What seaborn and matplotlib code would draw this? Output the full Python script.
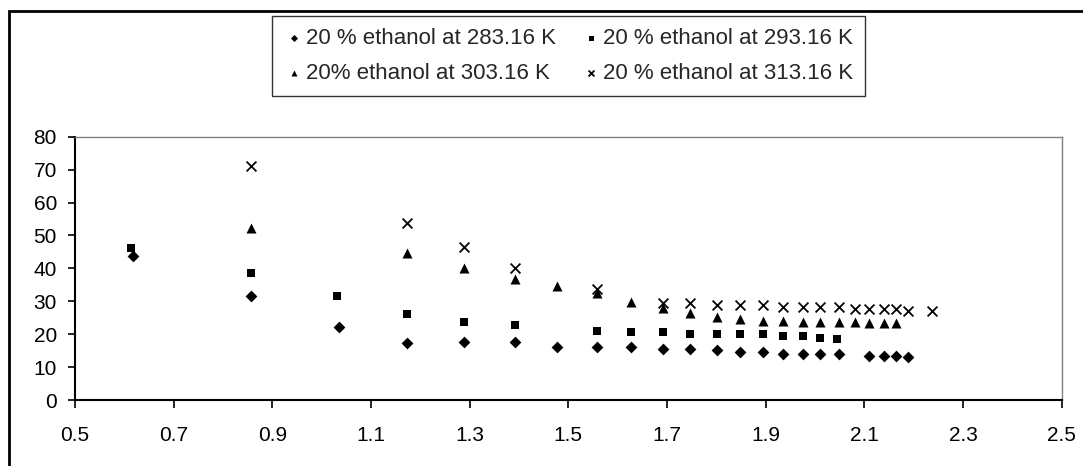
import matplotlib
matplotlib.use("Agg")
import matplotlib.pyplot as plt
import seaborn as sns
import pandas as pd
from matplotlib.patches import Rectangle

labels = ["20 % ethanol at 283.16 K", "20 % ethanol at 293.16 K",
          "20% ethanol at 303.16 K", "20 % ethanol at 313.16 K"]

x_283 = [0.617, 0.857, 1.035, 1.173, 1.289, 1.391, 1.478, 1.558, 1.627, 1.692, 1.747,
         1.801, 1.848, 1.895, 1.935, 1.975, 2.011, 2.048, 2.109, 2.139, 2.165, 2.189]
y_283 = [43.9, 31.5, 22.2, 17.2, 17.7, 17.7, 16.2, 16.1, 16.1, 15.6, 15.6,
         15.1, 14.6, 14.6, 14.0, 14.0, 14.0, 14.0, 13.4, 13.4, 13.4, 13.0]

x_293 = [0.614, 0.857, 1.031, 1.173, 1.289, 1.391, 1.558, 1.627, 1.692, 1.747, 1.801,
         1.848, 1.895, 1.935, 1.975, 2.011, 2.045]
y_293 = [46.1, 38.5, 31.5, 26.0, 23.8, 22.7, 21.1, 20.6, 20.6, 20.1, 20.1,
         20.1, 20.1, 19.5, 19.5, 18.9, 18.4]

x_303 = [0.857, 1.173, 1.289, 1.391, 1.478, 1.558, 1.627, 1.692, 1.747, 1.801, 1.848,
         1.895, 1.935, 1.975, 2.011, 2.048, 2.081, 2.109, 2.139, 2.165]
y_303 = [52.2, 44.6, 40.0, 36.7, 34.7, 32.4, 29.9, 27.9, 26.3, 25.1, 24.7,
         24.1, 24.1, 23.6, 23.6, 23.7, 23.7, 23.3, 23.3, 23.3]

x_313 = [0.857, 1.173, 1.289, 1.391, 1.558, 1.692, 1.747, 1.801, 1.848, 1.895, 1.935,
         1.975, 2.011, 2.048, 2.081, 2.109, 2.139, 2.165, 2.189, 2.237]
y_313 = [71.1, 53.7, 46.6, 40.0, 33.7, 29.4, 29.4, 28.9, 28.9, 28.9, 28.2,
         28.2, 28.2, 28.2, 27.6, 27.6, 27.6, 27.6, 27.1, 27.1]

x_ticks = [0.5, 0.7, 0.9, 1.1, 1.3, 1.5, 1.7, 1.9, 2.1, 2.3, 2.5]
y_ticks = [0, 10, 20, 30, 40, 50, 60, 70, 80]

frames = []
for lab, xs, ys in zip(labels, [x_283, x_293, x_303, x_313], [y_283, y_293, y_303, y_313]):
    frames.append(pd.DataFrame({"x": xs, "y": ys, "series": lab}))
df = pd.concat(frames, ignore_index=True)

sns.set_style("white")
plt.rcParams['font.family'] = ['Liberation Sans', 'DejaVu Sans']

fig = plt.figure(figsize=(10.83, 4.66), dpi=100)
ax = fig.add_axes([75/1083, 1 - 400/466, (1061.7 - 75)/1083, (400 - 136.7)/466])

markers = {labels[0]: "D", labels[1]: "s", labels[2]: "^"}
sizes_map = {labels[0]: 36, labels[1]: 36, labels[2]: 52}
for lab in labels:
    sub = df[df["series"] == lab]
    if lab == labels[3]:
        sns.scatterplot(data=sub, x="x", y="y", marker="x", s=50, color="black",
                        linewidth=1.3, ax=ax, label=lab)
    else:
        sns.scatterplot(data=sub, x="x", y="y", marker=markers[lab], s=sizes_map[lab],
                        color="black", edgecolor="black", linewidth=0, ax=ax, label=lab)

ax.set_xlim(0.5, 2.5)
ax.set_ylim(0, 80)
ax.set_xticks(x_ticks)
ax.set_xticklabels([f"{v:.1f}" for v in x_ticks])
ax.set_yticks(y_ticks)
ax.set_yticklabels([str(v) for v in y_ticks])
ax.set_xlabel("")
ax.set_ylabel("")
ax.tick_params(axis="both", direction="out", width=1.2, color="black",
               labelsize=15, labelcolor="black")
ax.tick_params(axis="x", pad=13, length=6)
ax.tick_params(axis="y", pad=8, length=5)
ax.xaxis.set_ticks_position("bottom")
ax.yaxis.set_ticks_position("left")
for side in ["left", "bottom"]:
    ax.spines[side].set_color("black")
    ax.spines[side].set_linewidth(1.5)
for side in ["top", "right"]:
    ax.spines[side].set_color("#808080")
    ax.spines[side].set_linewidth(1.0)
ax.grid(False)

handles, labs = ax.get_legend_handles_labels()
if ax.get_legend():
    ax.get_legend().remove()
hmap = dict(zip(labs, handles))
order = [labels[0], labels[2], labels[1], labels[3]]
leg = fig.legend([hmap[l] for l in order], order, ncol=2, loc="upper left",
                 bbox_to_anchor=(272/1083, 1 - 16/466), frameon=True, fancybox=False,
                 fontsize=16, handletextpad=0.1, columnspacing=1.1, borderpad=0.55,
                 labelspacing=0.62, handlelength=0.9, markerscale=0.6, borderaxespad=0)
leg.get_frame().set_edgecolor("black")
leg.get_frame().set_linewidth(1.0)

frame = Rectangle((9/1083, -0.1), 1.2, 1 - 11/466 + 0.1, transform=fig.transFigure,
                  fill=False, edgecolor="black", linewidth=2.0)
fig.patches.append(frame)

fig.savefig("out.png", dpi=100)
